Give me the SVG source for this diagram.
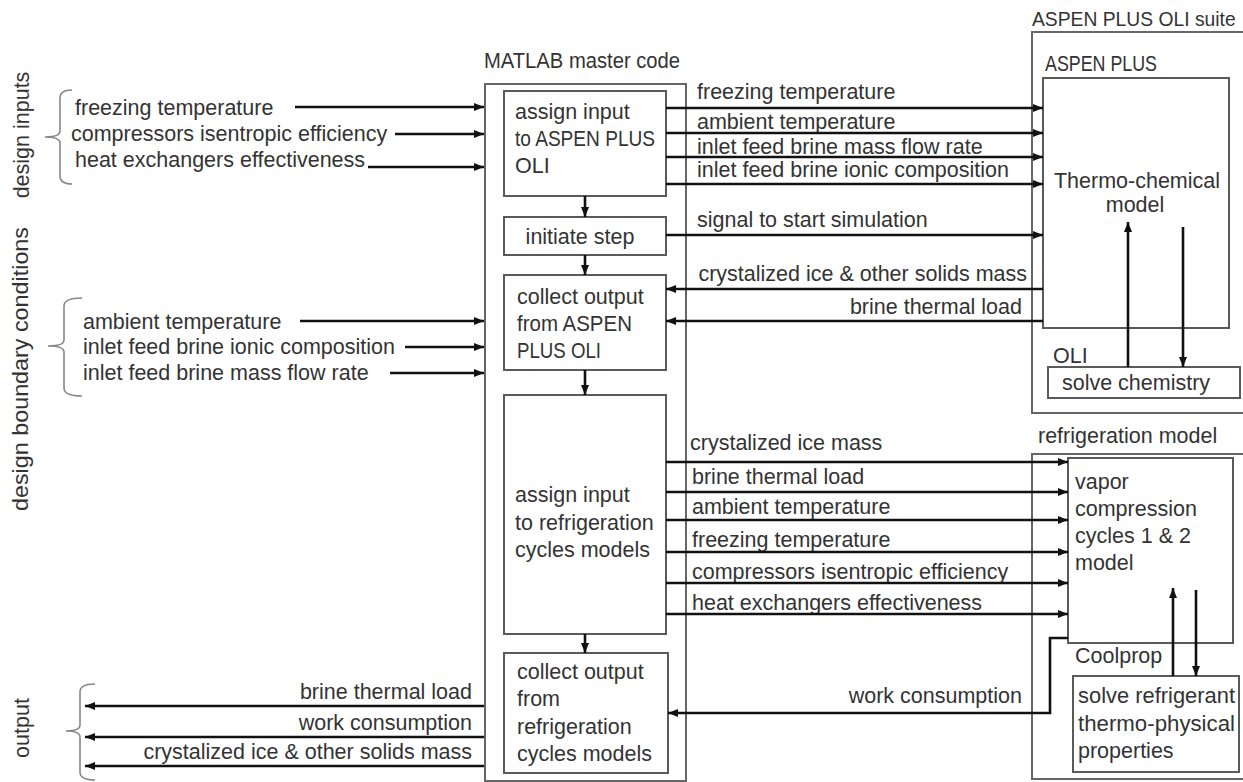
<svg xmlns="http://www.w3.org/2000/svg" width="1243" height="782" viewBox="0 0 1243 782">
<style>
text{font-family:"Liberation Sans",Arial,sans-serif;font-size:21.5px;fill:#333}
.box{fill:none;stroke:#5a5a5a;stroke-width:2}
.obox{fill:none;stroke:#666;stroke-width:2}
.c{fill:none;stroke:#111;stroke-width:2.6;marker-end:url(#ah)}
.br{fill:none;stroke:#888;stroke-width:1.6}
.m{text-anchor:middle}
.e{text-anchor:end}
</style>
<defs>
<marker id="ah" markerUnits="userSpaceOnUse" markerWidth="10" markerHeight="8" refX="10" refY="4" orient="auto">
<path d="M0,0 L10,4 L0,8 z" fill="#111"/>
</marker>
</defs>
<rect width="1243" height="782" fill="#fff"/>

<g id="labels-left">
<text transform="translate(29,135) rotate(-90)" class="m">design inputs</text>
<text transform="translate(28,369) rotate(-90)" class="m" textLength="284" lengthAdjust="spacingAndGlyphs">design boundary conditions</text>
<text transform="translate(29,728) rotate(-90)" class="m">output</text>
<path class="br" d="M72,90 Q60,90 60,98 L60,131 Q60,137 45,137 Q60,137 60,143 L60,176 Q60,184 72,184"/>
<path class="br" d="M82,298 Q64,298 64,306 L64,340 Q64,346 48,346 Q64,346 64,352 L64,388 Q64,396 82,396"/>
<path class="br" d="M95,684 Q80,684 80,692 L80,725 Q80,731 66,731 Q80,731 80,737 L80,772 Q80,780 95,780"/>
<text x="75" y="115">freezing temperature</text>
<text x="71" y="141">compressors isentropic efficiency</text>
<text x="75" y="167">heat exchangers effectiveness</text>
<text x="83" y="329">ambient temperature</text>
<text x="83" y="354">inlet feed brine ionic composition</text>
<text x="83" y="380">inlet feed brine mass flow rate</text>
<text x="472" y="699" class="e">brine thermal load</text>
<text x="472" y="730" class="e">work consumption</text>
<text x="472" y="759" class="e">crystalized ice &amp; other solids mass</text>
</g>

<g id="matlab">
<rect class="obox" x="485" y="84" width="201" height="697"/>
<text x="484" y="68" textLength="196" lengthAdjust="spacingAndGlyphs">MATLAB master code</text>
</g>
<g id="assign-aspen">
<rect class="box" x="504" y="91" width="162" height="105"/>
<text x="515" y="119">assign input</text>
<text x="515" y="146" textLength="140" lengthAdjust="spacingAndGlyphs">to ASPEN PLUS</text>
<text x="515" y="173">OLI</text>
</g>
<g id="initiate">
<rect class="box" x="504" y="217" width="162" height="38"/>
<text x="580" y="244" class="m">initiate step</text>
</g>
<g id="collect-aspen">
<rect class="box" x="504" y="275" width="162" height="95"/>
<text x="517" y="304">collect output</text>
<text x="517" y="331" textLength="115" lengthAdjust="spacingAndGlyphs">from ASPEN</text>
<text x="517" y="358" textLength="84" lengthAdjust="spacingAndGlyphs">PLUS OLI</text>
</g>
<g id="assign-refrig">
<rect class="box" x="504" y="395" width="162" height="239"/>
<text x="515" y="502">assign input</text>
<text x="515" y="530">to refrigeration</text>
<text x="515" y="557">cycles models</text>
</g>
<g id="collect-refrig">
<rect class="box" x="504" y="653" width="164" height="120"/>
<text x="517" y="679">collect output</text>
<text x="517" y="706">from</text>
<text x="517" y="734">refrigeration</text>
<text x="517" y="761">cycles models</text>
</g>

<g id="aspen-suite">
<rect class="obox" x="1032" y="32" width="212" height="381"/>
<text x="1032" y="26" style="font-size:19.3px">ASPEN PLUS OLI suite</text>
</g>
<g id="aspen-plus">
<rect class="box" x="1043" y="78" width="186" height="250"/>
<text x="1045" y="71" textLength="112" lengthAdjust="spacingAndGlyphs">ASPEN PLUS</text>
<text x="1137" y="188" class="m">Thermo-chemical</text>
<text x="1135" y="212" class="m">model</text>
</g>
<g id="oli">
<text x="1053" y="363">OLI</text>
<rect class="box" x="1048" y="367" width="192" height="31"/>
<text x="1136" y="390" class="m">solve chemistry</text>
</g>

<g id="refrigeration-model">
<rect class="obox" x="1032" y="454" width="212" height="325"/>
<text x="1038" y="443">refrigeration model</text>
</g>
<g id="vapor">
<rect class="box" x="1068" y="458" width="165" height="185"/>
<text x="1075" y="489">vapor</text>
<text x="1075" y="516">compression</text>
<text x="1075" y="543">cycles 1 &amp; 2</text>
<text x="1075" y="570">model</text>
</g>
<g id="coolprop">
<text x="1075" y="663">Coolprop</text>
<rect class="box" x="1073" y="676" width="166" height="96"/>
<text x="1078" y="703" textLength="157" lengthAdjust="spacingAndGlyphs">solve refrigerant</text>
<text x="1078" y="731" textLength="157" lengthAdjust="spacingAndGlyphs">thermo-physical</text>
<text x="1078" y="758">properties</text>
</g>

<g id="connector-labels">
<text x="697" y="99">freezing temperature</text>
<text x="697" y="129">ambient temperature</text>
<text x="697" y="154">inlet feed brine mass flow rate</text>
<text x="697" y="177">inlet feed brine ionic composition</text>
<text x="697" y="227">signal to start simulation</text>
<text x="1027" y="281" class="e">crystalized ice &amp; other solids mass</text>
<text x="1022" y="314" class="e">brine thermal load</text>
<text x="690" y="450">crystalized ice mass</text>
<text x="692" y="484">brine thermal load</text>
<text x="692" y="514">ambient temperature</text>
<text x="692" y="547">freezing temperature</text>
<text x="692" y="579">compressors isentropic efficiency</text>
<text x="692" y="610">heat exchangers effectiveness</text>
<text x="1022" y="703" class="e">work consumption</text>
</g>

<g id="connectors">
<path class="c" d="M295,107 H484"/>
<path class="c" d="M395,134 H484"/>
<path class="c" d="M368,167 H484"/>
<path class="c" d="M300,321 H484"/>
<path class="c" d="M405,347 H484"/>
<path class="c" d="M390,373 H484"/>
<path class="c" d="M585,196 V217"/>
<path class="c" d="M585,255 V275"/>
<path class="c" d="M585,370 V395"/>
<path class="c" d="M585,634 V653"/>
<path class="c" d="M666,108 H1043"/>
<path class="c" d="M666,133 H1043"/>
<path class="c" d="M666,157 H1043"/>
<path class="c" d="M666,184 H1043"/>
<path class="c" d="M666,235 H1043"/>
<path class="c" d="M1043,289 H666"/>
<path class="c" d="M1043,321 H666"/>
<path class="c" d="M1128,367 V222"/>
<path class="c" d="M1183,227 V367"/>
<path class="c" d="M666,462 H1068"/>
<path class="c" d="M666,492 H1068"/>
<path class="c" d="M666,520 H1068"/>
<path class="c" d="M666,552 H1068"/>
<path class="c" d="M666,583 H1068"/>
<path class="c" d="M666,614 H1068"/>
<path class="c" d="M1173,676 V588"/>
<path class="c" d="M1196,590 V676"/>
<path class="c" d="M1068,638 H1050 V713 H668"/>
<path class="c" d="M484,706 H85"/>
<path class="c" d="M484,737 H85"/>
<path class="c" d="M484,766 H85"/>
</g>
</svg>
